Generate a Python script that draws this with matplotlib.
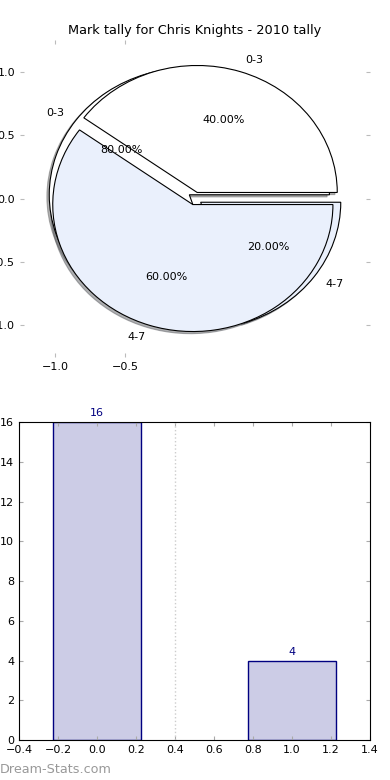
# mark tally chart: pie on top, bar chart below
import matplotlib
matplotlib.use('Agg')
import matplotlib.pyplot as plt

title = 'Mark tally for Chris Knights - 2010 tally'
groups = ['0-3', '4-7']
counts = [16, 4]          # 2010 tally
old_share = [40, 60]      # earlier tally, still sitting on the same axes
pie_colors = ['white', '#eaf0fc']
explode = [0.05, 0.05]
shadow = {'ox': -0.012, 'oy': -0.012, 'shade': 0.6}

fig = plt.figure(figsize=(3.9, 7.8), dpi=100)

# top: the pie(s)
ax1 = fig.add_axes([0.051, 0.542, 0.898, 0.407])
ax1.pie(counts, labels=groups, colors=pie_colors, explode=explode,
        autopct='%1.2f%%', shadow=shadow,
        wedgeprops={'edgecolor': 'black', 'linewidth': 0.8},
        textprops={'fontsize': 8})
ax1.pie(old_share, labels=groups, colors=pie_colors, explode=explode,
        autopct='%1.2f%%', shadow=shadow,
        wedgeprops={'edgecolor': 'black', 'linewidth': 0.8},
        textprops={'fontsize': 8})
ax1.set_aspect('auto')
ax1.set_xlim(-1.25, 1.25)
ax1.set_ylim(-1.25, 1.25)
ax1.set_xticks([-1.0, -0.5])
ax1.set_yticks([-1.0, -0.5, 0.0, 0.5, 1.0])
ax1.tick_params(direction='in', length=3, color='#bbbbbb', labelsize=8,
                top=True, right=True)
ax1.set_title(title, fontsize=9.3, pad=4)

# bottom: bar chart of the counts
ax2 = fig.add_axes([0.049, 0.051, 0.9, 0.408])
xs = list(range(len(counts)))
ax2.bar(xs, counts, width=0.45, color='#ccccE6', edgecolor='navy', linewidth=1)
for x, c in zip(xs, counts):
    ax2.text(x, c + 0.2, str(c), ha='center', va='bottom', color='navy', fontsize=8)
ax2.axvline(0.4, color='#cccccc', linestyle=':', linewidth=1)
ax2.set_xlim(-0.4, 1.4)
ax2.set_ylim(0, 16)
ax2.set_xticks([-0.4, -0.2, 0.0, 0.2, 0.4, 0.6, 0.8, 1.0, 1.2, 1.4])
ax2.set_yticks(range(0, 17, 2))
ax2.tick_params(direction='in', length=3, color='#aaaaaa', labelsize=8,
                top=True, right=True)

fig.text(0.0, 0.005, 'Dream-Stats.com', color='#999999', fontsize=9.2,
         ha='left', va='bottom')

fig.savefig('out.png', dpi=100)
